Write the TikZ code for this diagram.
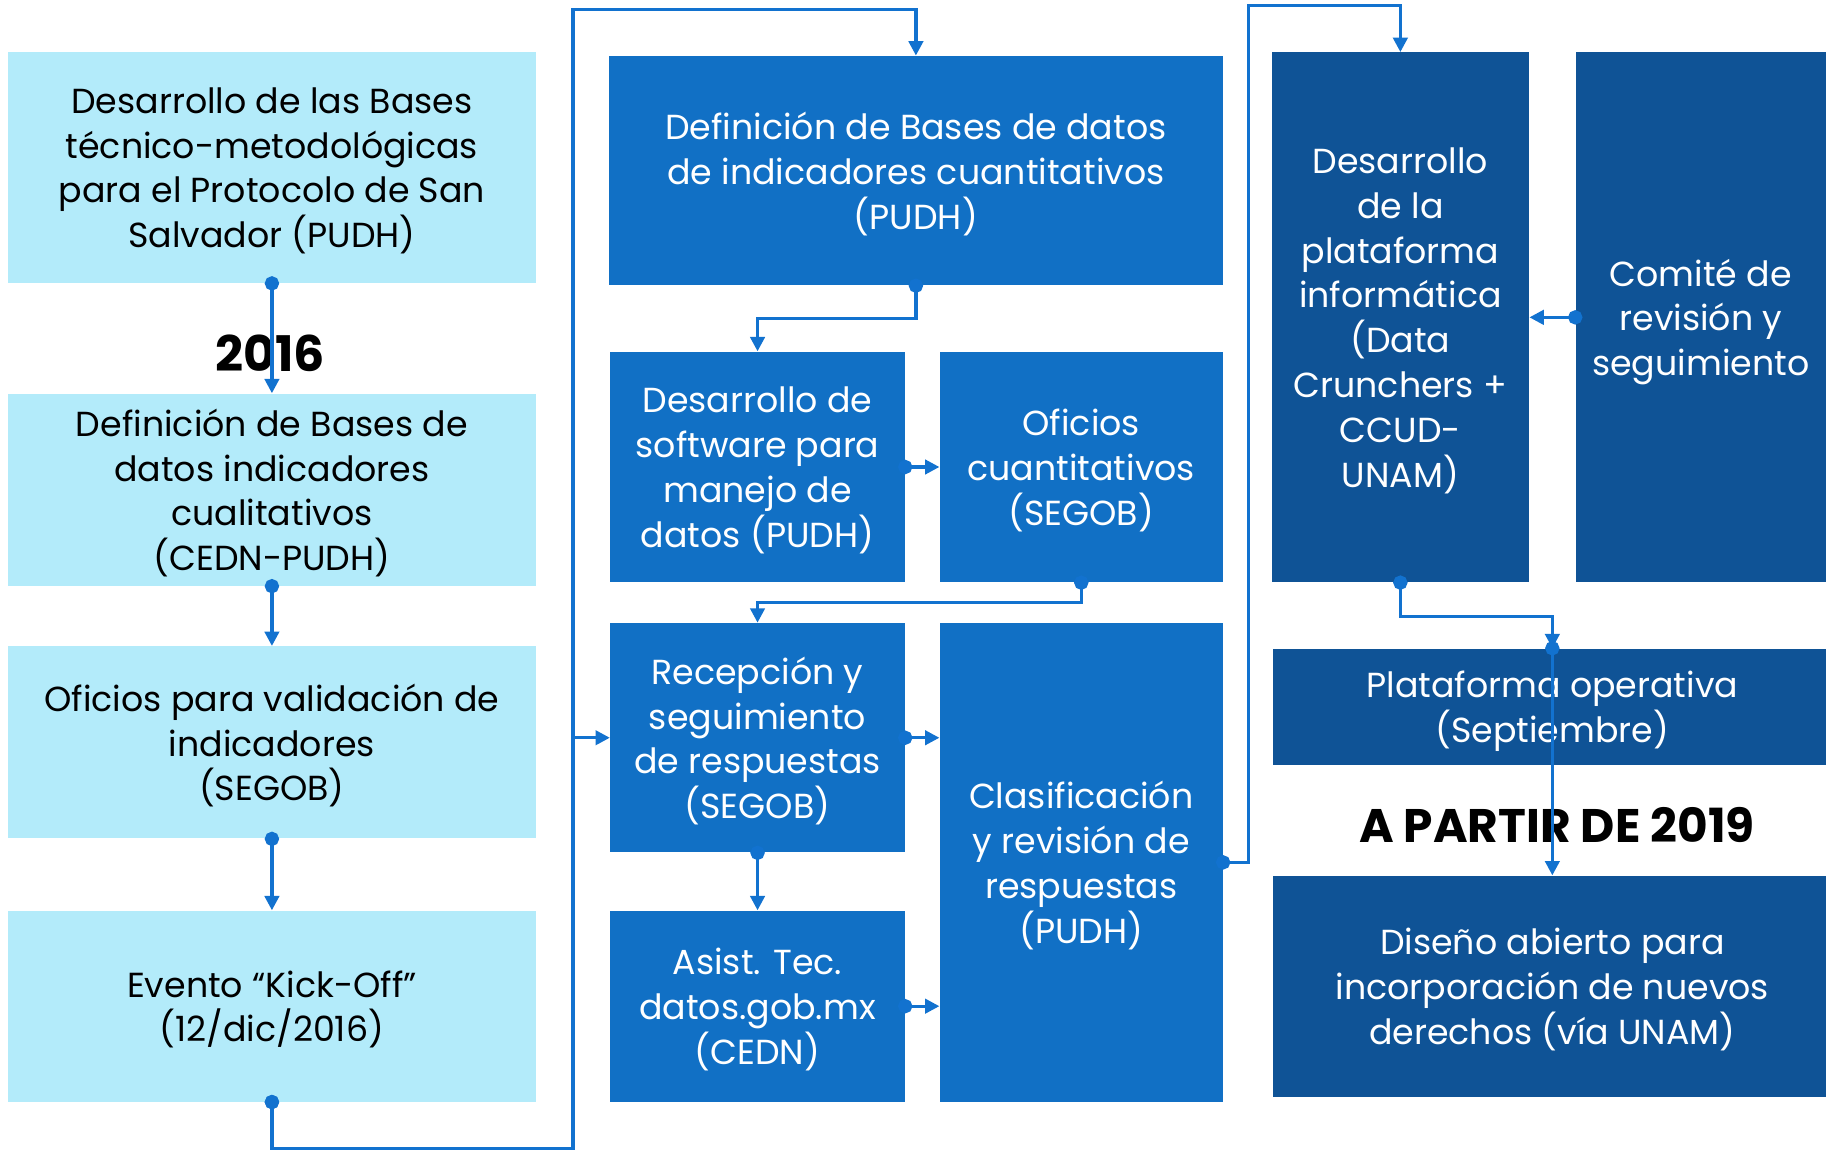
\documentclass[tikz,border=0pt]{standalone}
\usepackage{fontspec}
\setmainfont{Poppins}
\usetikzlibrary{arrows.meta}
\definecolor{lightbox}{HTML}{B3EBFA}
\definecolor{midbox}{HTML}{1170C5}
\definecolor{darkbox}{HTML}{0F5396}
\definecolor{linkblue}{HTML}{1272CF}
\begin{document}
\begin{tikzpicture}[x=0.02cm,y=-0.02cm,
	box/.style={inner sep=0pt,align=center,text depth=0pt,font=\fontsize{17}{21.9}\selectfont},
	light/.style={box,fill=lightbox,text=black},
	mid/.style={box,fill=midbox,text=white},
	dark/.style={box,fill=darkbox,text=white},
	link/.style={draw=linkblue,line width=1.6pt,{Circle[length=7pt]}-{Triangle[length=7pt,width=7pt]},shorten <=-3.5pt},
	year/.style={font=\fontsize{23}{27}\selectfont\bfseries}]
	\useasboundingbox (0,0) rectangle (1568,988);
	%2016
	\node[light,minimum width=9.06cm,minimum height=3.96cm] (bases) at (233.5,144) {Desarrollo de las Bases\\técnico-metodológicas\\para el Protocolo de San\\Salvador (PUDH)};
	\node[light,minimum width=9.06cm,minimum height=3.30cm] (cualit) at (233.5,420.5) {Definición de Bases de\\datos indicadores\\cualitativos\\(CEDN-PUDH)};
	\node[light,minimum width=9.06cm,minimum height=3.30cm] (valid) at (233.5,637.5) {Oficios para validación de\\indicadores\\(SEGOB)};
	\node[light,minimum width=9.06cm,minimum height=3.28cm] (kickoff) at (233.5,864) {Evento “Kick-Off”\\(12/dic/2016)};
	\node[year,font=\fontsize{24}{28}\selectfont\bfseries] (y2016) at (232,303) {2016};
	%PUDH / SEGOB
	\node[mid,minimum width=10.54cm,minimum height=3.94cm] (cuanti) at (786.5,146.5) {Definición de Bases de datos\\de indicadores cuantitativos\\(PUDH)};
	\node[mid,minimum width=5.06cm,minimum height=3.96cm] (soft) at (650.5,401) {Desarrollo de\\software para\\manejo de\\datos (PUDH)};
	\node[mid,minimum width=4.86cm,minimum height=3.96cm] (ofic) at (928.5,401) {Oficios\\cuantitativos\\(SEGOB)};
	\node[mid,minimum width=5.06cm,minimum height=3.94cm] (recep) at (650.5,633.5) {Recepción y\\seguimiento\\de respuestas\\(SEGOB)};
	\node[mid,minimum width=5.06cm,minimum height=3.28cm] (asist) at (650.5,864) {Asist. Tec.\\datos.gob.mx\\(CEDN)};
	\node[mid,minimum width=4.86cm,minimum height=8.22cm] (clasif) at (928.5,740.5) {Clasificación\\y revisión de\\respuestas\\(PUDH)};
	%PLATAFORMA
	\node[dark,minimum width=4.42cm,minimum height=9.10cm] (plat) at (1202.5,272.5) {Desarrollo\\de la\\plataforma\\informática\\(Data\\Crunchers +\\CCUD-\\UNAM)};
	\node[dark,minimum width=4.30cm,minimum height=9.10cm] (comite) at (1460.5,272.5) {Comité de\\revisión y\\seguimiento};
	\node[dark,minimum width=9.6cm,minimum height=2.0cm] (oper) at (1333,607) {Plataforma operativa\\(Septiembre)};
	\node[dark,minimum width=9.6cm,minimum height=3.8cm] (diseno) at (1333,847) {Diseño abierto para\\incorporación de nuevos\\derechos (vía UNAM)};
	\node[year] (y2019) at (1337,708) {A PARTIR DE 2019};
	%buses
	\coordinate (busB) at (492,986);
	\coordinate (busT) at (492,8);
	\coordinate (busR) at (1072,5);
	%connectors
	\draw[link] (bases.south) -- (cualit.north);
	\draw[link] (cualit.south) -- (valid.north);
	\draw[link] (valid.south) -- (kickoff.north);
	\draw[link] (kickoff.south) |- (busB) -- (busT) -| (cuanti.north);
	\draw[link] (kickoff.south) |- (busB) |- (recep.west);
	\draw[link] (cuanti.south) -- ++(0,28) -| (soft.north);
	\draw[link] (soft.east) -- (ofic.west);
	\draw[link] (ofic.south) -- ++(0,17) -| (recep.north);
	\draw[link] (recep.east) -- (clasif.west |- recep.east);
	\draw[link] (recep.south) -- (asist.north);
	\draw[link] (asist.east) -- (clasif.west |- asist.east);
	\draw[link] (clasif.east) -| (busR) -| (plat.north);
	\draw[link] (comite.west) -- (plat.east |- comite.west);
	\draw[link] (plat.south) -- ++(0,29) -| (oper.north);
	\draw[link] (oper.north) -- (diseno.north);
\end{tikzpicture}
\end{document}
